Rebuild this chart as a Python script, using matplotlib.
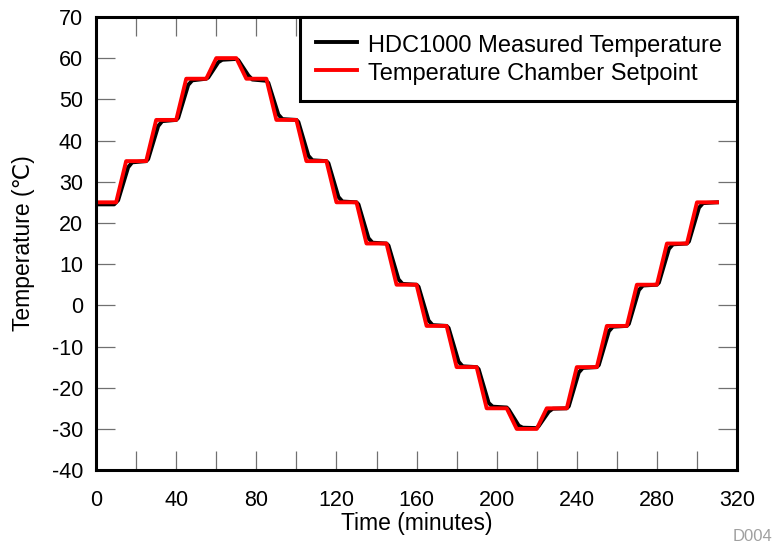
import matplotlib
matplotlib.use("Agg")
import matplotlib.pyplot as plt
from matplotlib.ticker import MultipleLocator

plt.rcParams['font.family'] = ['Liberation Sans', 'DejaVu Sans']
plt.rcParams['axes.unicode_minus'] = False

# Temperature chamber setpoint (corner points of the staircase)
setpoint_time = [0, 10, 15, 25, 30, 40, 45, 55, 60, 70, 75, 85, 90, 100, 105,
                 115, 120, 130, 135, 145, 150, 160, 165, 175, 180, 190, 195,
                 205, 210, 220, 225, 235, 240, 250, 255, 265, 270, 280, 285,
                 295, 300, 310]
setpoint_temp = [25, 25, 35, 35, 45, 45, 55, 55, 60, 60, 55, 55, 45, 45, 35,
                 35, 25, 25, 15, 15, 5, 5, -5, -5, -15, -15, -25,
                 -25, -30, -30, -25, -25, -15, -15, -5, -5, 5, 5, 15,
                 15, 25, 25]

# HDC1000 measured temperature
measured_time = [0, 9, 11, 16, 18, 25, 26, 31, 33, 40, 41, 46, 48, 55, 56, 61,
                 63, 70, 71, 76, 78, 85, 86, 91, 93, 100, 101, 106, 108, 115,
                 116, 121, 123, 130, 131, 136, 138, 145, 146, 151, 153, 160,
                 161, 166, 168, 175, 176, 181, 183, 190, 191, 196, 198, 205,
                 206, 211, 213, 220, 221, 226, 228, 235, 236, 241, 243, 250,
                 251, 256, 258, 265, 266, 271, 273, 280, 281, 286, 288, 295,
                 296, 301, 303, 310]
measured_temp = [24.5, 24.5, 25.5, 33.5, 34.7, 35, 35.5, 43.5, 44.7, 45, 45.5,
                 53.5, 54.6, 55, 55.3, 59, 59.6, 59.8, 59.5, 55.8, 54.8, 54.5,
                 54, 46.3, 45.2, 45, 44.5, 36.3, 35.2, 35, 34.5, 26.3, 25.2,
                 25, 24.5, 16.3, 15.2, 15, 14.5, 6.3, 5.2, 5, 4.5, -3.7, -4.8,
                 -5, -5.5, -13.7, -14.8, -15, -15.5, -23.7, -24.6, -24.8,
                 -25.3, -29.2, -29.7, -29.8, -29.3, -25.8, -25.1, -25, -24.5,
                 -16.3, -15.2, -15, -14.5, -6.3, -5.2, -5, -4.5, 3.7, 4.8, 5,
                 5.5, 13.7, 14.8, 15, 15.5, 23.7, 24.8, 25]

fig = plt.figure(figsize=(7.75, 5.46), dpi=100)
ax = fig.add_axes([0.124, 0.139, 0.827, 0.830])

ax.plot(measured_time, measured_temp, color='black', lw=2.8,
        label='HDC1000 Measured Temperature')
ax.plot(setpoint_time, setpoint_temp, color='#ff0000', lw=2.8,
        label='Temperature Chamber Setpoint')

ax.set_xlim(0, 320)
ax.set_ylim(-40, 70)
ax.xaxis.set_major_locator(MultipleLocator(40))
ax.xaxis.set_minor_locator(MultipleLocator(20))
ax.yaxis.set_major_locator(MultipleLocator(10))

for s in ax.spines.values():
    s.set_linewidth(2.2)

ax.tick_params(which='both', direction='in', top=True, right=True,
               length=14, width=0.9, color='#707070', labelsize=15.5)
ax.tick_params(axis='x', which='both', pad=14)
ax.tick_params(axis='y', which='both', pad=9.5)

ax.set_xlabel('Time (minutes)', fontsize=16.5, labelpad=1)
ax.set_ylabel('Temperature (\u2103)', fontsize=16.5, labelpad=12)

leg = ax.legend(loc='upper right', fontsize=17, frameon=True,
                fancybox=False, borderaxespad=0, handlelength=1.75,
                handleheight=1.2, handletextpad=0.45, borderpad=0.65,
                labelspacing=0.12)
leg.get_frame().set_edgecolor('black')
leg.get_frame().set_linewidth(2.2)
leg.get_frame().set_alpha(1)

fig.text(0.997, 0.004, 'D004', color='#a0a0a0', fontsize=12,
         ha='right', va='bottom')

fig.savefig('out.png', dpi=100)
